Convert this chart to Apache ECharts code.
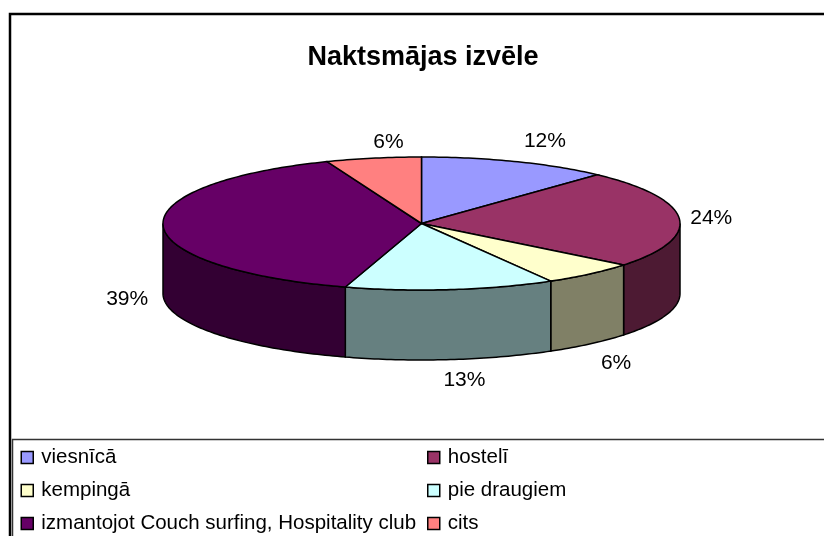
<!DOCTYPE html>
<html>
<head>
<meta charset="utf-8">
<title>Naktsmājas izvēle</title>
<script src="https://cdn.jsdelivr.net/npm/echarts@6/dist/echarts.min.js"></script>
<style>
  html, body { margin: 0; padding: 0; background: #fff; }
  #chart { width: 824px; height: 536px; }
</style>
</head>
<body>
<div id="chart"></div>
<script>
const categories = ["viesnīcā", "hostelī", "kempingā", "pie draugiem", "izmantojot Couch surfing, Hospitality club", "cits"];
const counts = [10, 20, 5, 11, 33, 5];
const topColors = ["#9999FF", "#993366", "#FFFFCC", "#CCFFFF", "#660066", "#FF8080"];
const sideColors = ["#4D4D80", "#4D1A33", "#808066", "#668080", "#330033", "#804040"];

// pie shape on screen
const cx = 421.5, cy = 223.5, rx = 258.5, ry = 66.5, depth = 70;
// label offset from the rim at the slice's middle angle
const labelOffsets = [[29, -20], [32, 0], [26, 19], [14, 21], [-36, 3], [15, -16]];

const total = counts.reduce((a, b) => a + b, 0);
let running = 0;
const slices = counts.map((v) => {
  const start = (running / total) * Math.PI * 2;
  running += v;
  return { start, end: (running / total) * Math.PI * 2, pct: Math.round((v / total) * 100) };
});

// angle is clockwise from 12 o'clock
const rim = (a, drop) => [cx + rx * Math.sin(a), cy - ry * Math.cos(a) + (drop || 0)];

function arcPoints(from, to, drop) {
  const n = Math.max(2, Math.ceil((to - from) * 60));
  const pts = [];
  for (let i = 0; i <= n; i++) pts.push(rim(from + ((to - from) * i) / n, drop));
  return pts;
}

function renderSlice(idx) {
  return function () {
    const s = slices[idx];
    const children = [];
    // only the front half of the rim has a visible wall
    const from = Math.max(s.start, Math.PI / 2);
    const to = Math.min(s.end, (Math.PI * 3) / 2);
    if (to > from) {
      children.push({
        type: "polygon",
        shape: { points: arcPoints(from, to, 0).concat(arcPoints(from, to, depth).reverse()) },
        style: { fill: sideColors[idx], stroke: "#000", lineWidth: 1.5 },
      });
    }
    children.push({
      type: "polygon",
      shape: { points: [[cx, cy]].concat(arcPoints(s.start, s.end, 0)) },
      style: { fill: topColors[idx], stroke: "#000", lineWidth: 1.5 },
    });
    const mid = (s.start + s.end) / 2;
    const front = mid > Math.PI / 2 && mid < (Math.PI * 3) / 2;
    const p = rim(mid, front ? depth : 0);
    children.push({
      type: "text",
      z2: 10,
      style: {
        x: p[0] + labelOffsets[idx][0],
        y: p[1] + labelOffsets[idx][1],
        text: s.pct + "%",
        fill: "#000",
        font: "21px 'Liberation Sans', Arial, sans-serif",
        align: "center",
        verticalAlign: "middle",
      },
    });
    return { type: "group", children };
  };
}

const legendBase = {
  orient: "vertical",
  icon: "rect",
  itemWidth: 12,
  itemHeight: 12,
  itemGap: 12,
  padding: 0,
  selectedMode: false,
  itemStyle: { borderColor: "#000", borderWidth: 1.5 },
  textStyle: { color: "#000", fontSize: 20.5, lineHeight: 20, fontFamily: "'Liberation Sans', Arial, sans-serif", padding: [0, 0, 0, 3] },
};

const chart = echarts.init(document.getElementById("chart"), null, { renderer: "canvas" });
chart.setOption({
  animation: false,
  backgroundColor: "#fff",
  title: {
    text: "Naktsmājas izvēle",
    left: 418,
    top: 39,
    textAlign: "center",
    textStyle: { color: "#000", fontSize: 27, fontWeight: "bold", fontFamily: "'Liberation Sans', Arial, sans-serif" },
  },
  legend: [
    Object.assign({}, legendBase, { left: 20.5, top: 447, data: [categories[0], categories[2], categories[4]] }),
    Object.assign({}, legendBase, { left: 427, top: 447, data: [categories[1], categories[3], categories[5]] }),
  ],
  graphic: [
    // chart frame runs off the right and bottom of the picture
    { type: "rect", shape: { x: 10, y: 14, width: 830, height: 540 }, style: { fill: "none", stroke: "#000", lineWidth: 2.5 }, silent: true },
    { type: "rect", shape: { x: 12.5, y: 439.5, width: 830, height: 120 }, style: { fill: "#fff", stroke: "#333", lineWidth: 1.5 }, silent: true },
  ],
  series: categories.map((name, i) => ({
    name,
    type: "custom",
    coordinateSystem: "none",
    itemStyle: { color: topColors[i] },
    renderItem: renderSlice(i),
    data: [counts[i]],
  })),
});
</script>
</body>
</html>
